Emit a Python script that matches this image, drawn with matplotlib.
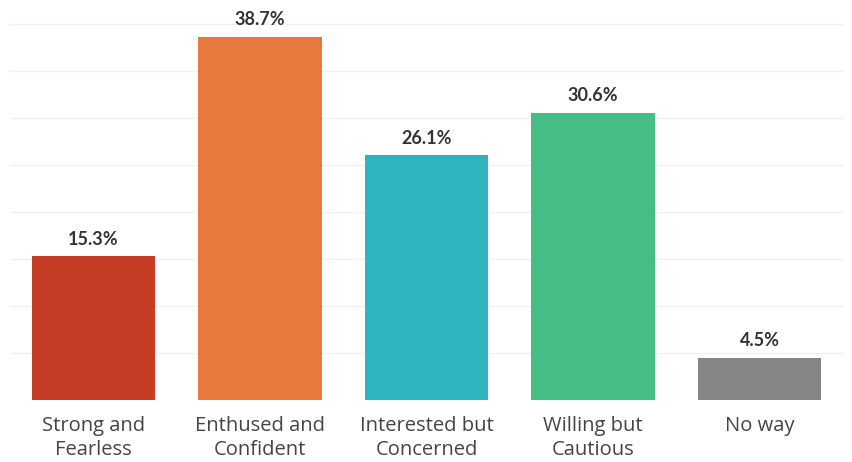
import matplotlib
matplotlib.use("Agg")
import matplotlib.pyplot as plt

categories = ["Strong and\nFearless", "Enthused and\nConfident", "Interested but\nConcerned",
              "Willing but\nCautious", "No way"]
shares = [15.3, 38.7, 26.1, 30.6, 4.5]
colors = ["#C63B24", "#E67A3E", "#2EB4BD", "#45BD85", "#858585"]

fig = plt.figure(figsize=(8.53, 4.62), dpi=100)
ax = fig.add_axes([10 / 853, 62 / 462, 833 / 853, 400 / 462])

x = range(len(categories))
ax.bar(x, shares, width=0.74, color=colors, zorder=2)
ax.set_xlim(-0.5, len(categories) - 0.5)
ax.set_ylim(0, 42.6)

# faint horizontal guides every 5%
ax.set_yticks(range(5, 45, 5))
ax.yaxis.grid(True, color="#F0F0F0", linewidth=1, zorder=0)
ax.tick_params(axis="y", left=False, labelleft=False)
ax.tick_params(axis="x", bottom=False, pad=8)
ax.set_xticks(list(x))
ax.set_xticklabels(categories, fontsize=14.5, family="Open Sans", color="#444444",
                   linespacing=1.3)
for s in ax.spines.values():
    s.set_visible(False)

for i, v in enumerate(shares):
    ax.annotate(f"{v}%", (i, v), xytext=(0, 6), textcoords="offset points",
                ha="center", va="bottom", fontsize=13, fontweight="bold",
                family="Lato", color="#333333")

fig.savefig("out.png", dpi=100, facecolor="white")
